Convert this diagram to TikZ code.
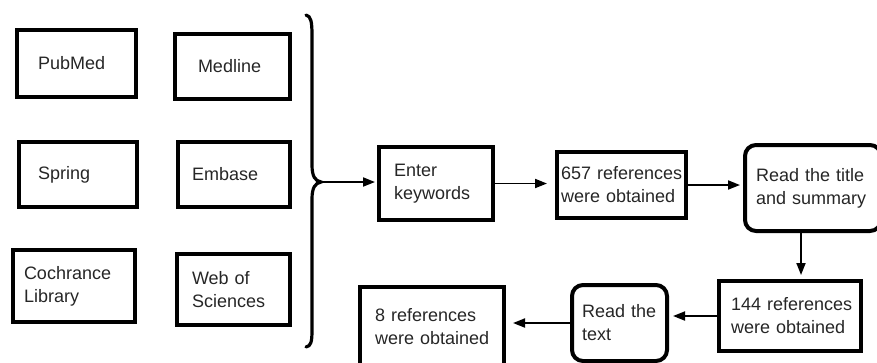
\documentclass[tikz,border=0pt]{standalone}
\usepackage{fontspec}
\setmainfont{Liberation Sans}
\usetikzlibrary{arrows.meta}

\tikzset{
	dbbox/.style={draw=black, line width=4pt, align=left, inner ysep=0pt, text=black!85,
		font=\fontsize{18}{23}\selectfont, execute at begin node={\hyphenpenalty=10000 \exhyphenpenalty=10000 }},
	roundbox/.style={dbbox, rounded corners=11pt},
	arr/.style={line width=1.8pt, -{Triangle[length=12pt,width=9pt]}},
}

\begin{document}
\begin{tikzpicture}[x=1pt, y=-1pt]
		%%%%% START %%%%%
		\useasboundingbox (0, 0) rectangle (877, 362);
		
		% databases
		\node[dbbox, minimum height=67, inner xsep=21, text width=77] (pubmed) at (76.5, 63.5) {PubMed};
		\node[dbbox, minimum height=65, inner xsep=23, text width=69] (medline) at (232.5, 66.5) {Medline};
		\node[dbbox, minimum height=65, inner xsep=19, text width=80] (spring) at (78, 174.5) {Spring};
		\node[dbbox, minimum height=65, inner xsep=14, text width=84] (embase) at (234, 174.5) {Embase};
		\node[dbbox, minimum height=72, inner xsep=11, text width=100] (cochrane) at (74, 286) {Cochrance\\Library};
		\node[dbbox, minimum height=71, inner xsep=15, text width=83] (wos) at (233.5, 289.5) {Web~of\\Sciences};
		
		% brace
		\draw[line width=3.2pt, line cap=round] (306, 15) .. controls (311, 16) and (312, 22) .. (312, 35) -- (312, 165)
			.. controls (312, 176) and (315, 181) .. (321, 182) .. controls (315, 183) and (312, 188) .. (312, 199)
			-- (312, 330) .. controls (312, 342) and (311, 346) .. (306, 347);
		\coordinate (tip) at (321, 182);
		
		% steps
		\node[dbbox, minimum height=73, inner xsep=15, text width=84] (enter) at (436, 183.5) {Enter\\keywords};
		\node[dbbox, minimum height=66, inner xsep=4, text width=121] (r657) at (621.5, 185) {657~references\\were~obtained};
		\node[roundbox, minimum height=86, inner xsep=11, text width=114] (title) at (813, 188) {Read~the~title\\and~summary};
		\node[dbbox, minimum height=70, inner xsep=12, text width=118] (r144) at (790, 316) {144~references\\were~obtained};
		\node[roundbox, minimum height=76, inner xsep=10, text width=75] (readtext) at (619.5, 323) {Read~the\\text};
		\node[dbbox, minimum height=80, inner xsep=15, text width=114] (r8) at (432, 327) {8~references\\were~obtained};
		
		% arrows
		\draw[arr, shorten >=2pt] (tip) -- (tip -| enter.west);
		\draw[arr, shorten >=8pt] (enter.east) -- (enter.east -| r657.west);
		\draw[arr, shorten >=3pt] (r657.east) -- (r657.east -| title.west);
		\draw[arr, shorten >=4pt] ([xshift=-12pt]title.south) -- ([xshift=-12pt]title.south |- r144.north);
		\draw[arr, shorten >=4pt] (r144.west) -- (r144.west -| readtext.east);
		\draw[arr, shorten >=7pt] (readtext.west) -- (readtext.west -| r8.east);
		
		%%%%% END %%%%%
	\end{tikzpicture}
\end{document}
